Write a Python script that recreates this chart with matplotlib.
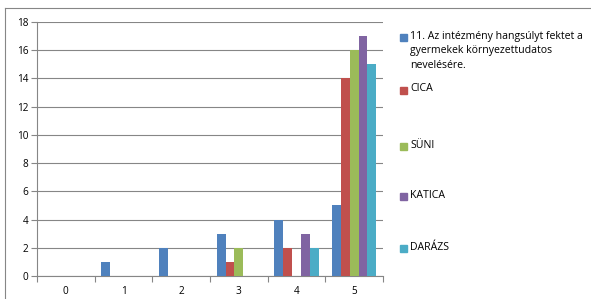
import matplotlib
matplotlib.use("Agg")
import matplotlib.pyplot as plt
import numpy as np
from matplotlib.patches import Rectangle
from matplotlib.lines import Line2D

categories = ["0", "1", "2", "3", "4", "5"]
series_names = ["11. Az intézmény hangsúlyt fektet a\ngyermekek környezettudatos\nnevelésére.",
                "CICA", "SÜNI", "KATICA", "DARÁZS"]
s_total = [0, 1, 2, 3, 4, 5]
s_cica = [0, 0, 0, 1, 2, 14]
s_suni = [0, 0, 0, 2, 0, 16]
s_katica = [0, 0, 0, 0, 3, 17]
s_darazs = [0, 0, 0, 0, 2, 15]
yticks = [0, 2, 4, 6, 8, 10, 12, 14, 16, 18]

colors = ["#4F81BD", "#C0504D", "#9BBB59", "#8064A2", "#4BACC6"]
all_series = [s_total, s_cica, s_suni, s_katica, s_darazs]

plt.rcParams['font.family'] = ['Open Sans', 'DejaVu Sans']
W, H = 591, 299
fig = plt.figure(figsize=(W / 100, H / 100), dpi=100)

# axes: x 37..383, y 22..276 (pixels from top)
ax = fig.add_axes([37 / W, 1 - 276 / H, (383 - 37) / W, (276 - 22) / H])

n = len(all_series)
bw = 1 / (n + 1.5)
x = np.arange(len(categories))
for i, (vals, c) in enumerate(zip(all_series, colors)):
    offs = -n * bw / 2 + bw * (i + 0.5)
    ax.bar(x + offs, vals, width=bw, color=c, edgecolor='none', zorder=3)

ax.set_xlim(-0.5, len(categories) - 0.5)
ax.set_ylim(0, 18)
ax.set_yticks(yticks)
ax.set_yticklabels([str(v) for v in yticks], fontsize=7.2)
ax.set_xticks(x)
ax.set_xticklabels(categories, fontsize=7.2)
ax.set_xticks(np.arange(-0.5, len(categories), 1), minor=True)
ax.tick_params(axis='x', which='major', length=0, pad=7)
ax.tick_params(axis='x', which='minor', length=4, color='#868686', width=0.8)
ax.tick_params(axis='y', length=4, color='#868686', width=0.8, pad=2)
ax.yaxis.grid(True, color='#868686', linewidth=0.8, zorder=0)
for sp in ['top', 'right']:
    ax.spines[sp].set_visible(False)
for sp in ['left', 'bottom']:
    ax.spines[sp].set_color('#868686')
    ax.spines[sp].set_linewidth(0.8)
ax.set_facecolor('none')

# chart border (left and top visible)
fig.add_artist(Line2D([4.5 / W, 4.5 / W], [0, 1 - 8 / H], color='#868686', lw=0.8, transform=fig.transFigure))
fig.add_artist(Line2D([4.5 / W, 1], [1 - 8 / H, 1 - 8 / H], color='#868686', lw=0.8, transform=fig.transFigure))

# legend (manual)
leg_y = [37, 90, 146, 196, 248]
for name, c, yy in zip(series_names, colors, leg_y):
    fig.add_artist(Rectangle((400 / W, 1 - (yy + 3.5) / H), 7 / W, 7 / H, color=c, transform=fig.transFigure))
    fig.text(410 / W, 1 - (yy - 6.5) / H, name, fontsize=7.6, va='top', ha='left', linespacing=1.5)

fig.savefig("out.png", dpi=100)
